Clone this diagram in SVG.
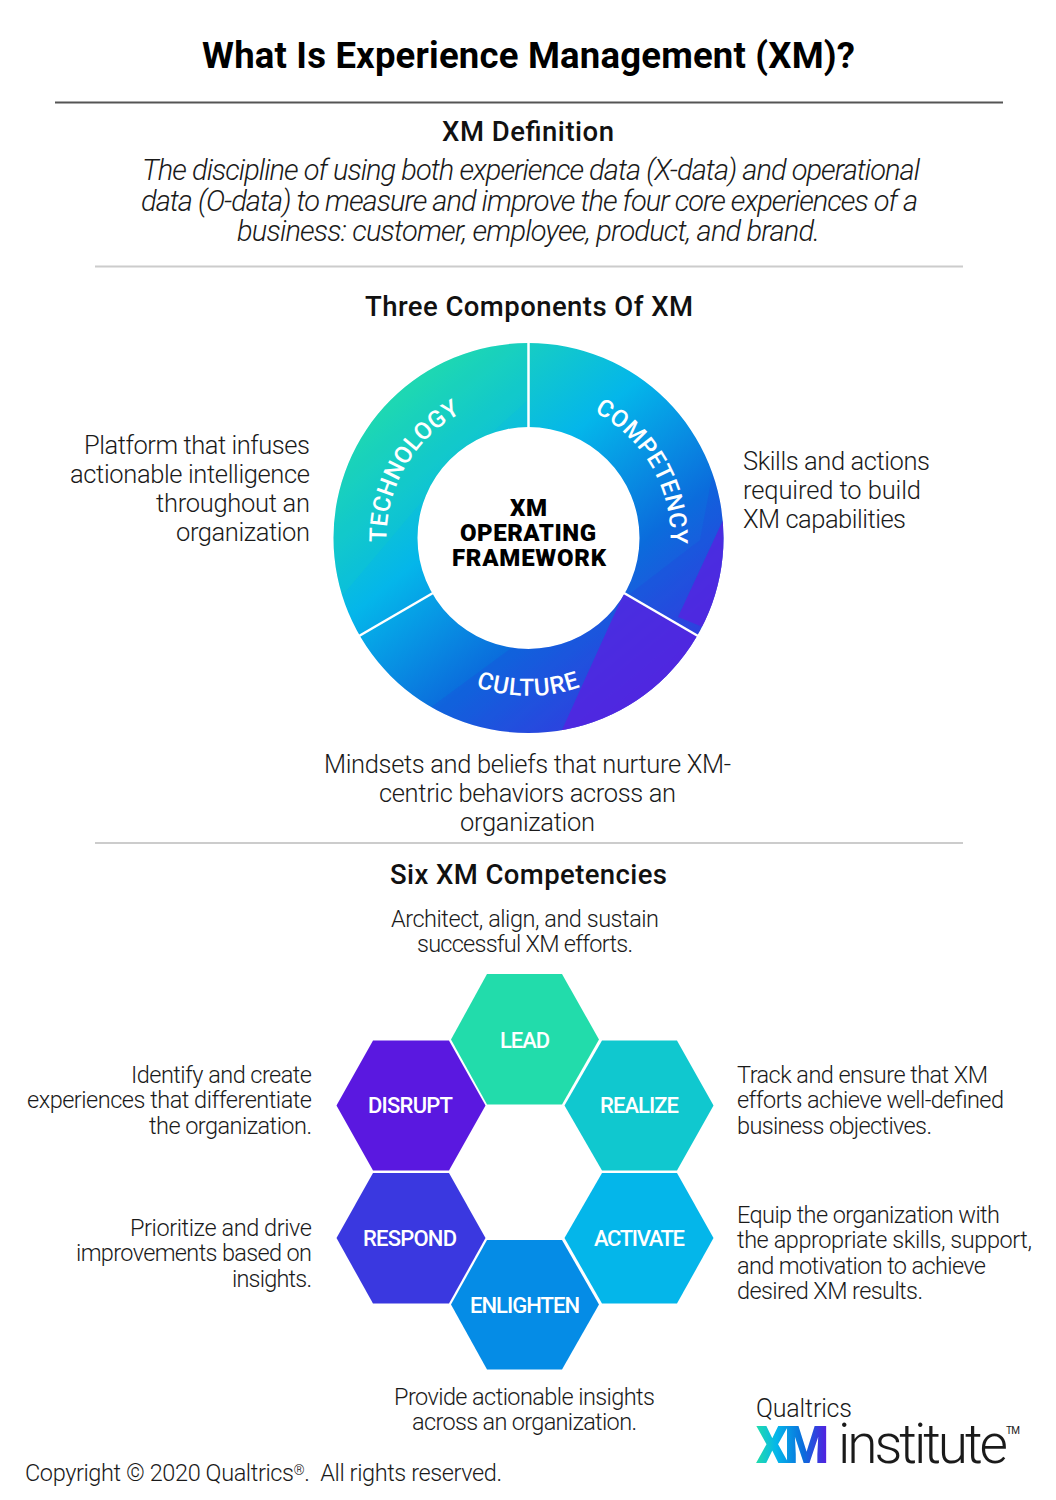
<svg xmlns="http://www.w3.org/2000/svg" width="1056" height="1500" viewBox="0 0 1056 1500">
<style>
text{font-family:"Roboto","Liberation Sans",sans-serif;fill:#1a1a1a}
.t{font-size:36.500px;font-weight:700;fill:#000}
.h{font-size:27.500px;font-weight:500;fill:#111}
.i{font-size:29px;font-weight:300;font-style:italic}
.b{font-size:25.500px;font-weight:300}
.s{font-size:23.500px;font-weight:300}
.c{font-size:24px;font-weight:900;fill:#000}
.w{font-size:22px;font-weight:500;fill:#fff}
.r{font-size:24px;font-weight:500;fill:#fff;letter-spacing:.3px}
.u{font-size:24px;font-weight:500;fill:#fff;letter-spacing:1px}
.rule{stroke:#ccc;stroke-width:2}
.div{stroke:#fff;stroke-width:2.5}
.hex{stroke:none}
</style>
<defs>
<linearGradient id="ring" gradientUnits="userSpaceOnUse" x1="395" y1="370" x2="665" y2="700">
<stop offset="0" stop-color="#22dcab"/>
<stop offset=".38" stop-color="#04b6ea"/>
<stop offset=".68" stop-color="#0b6cdc"/>
<stop offset="1" stop-color="#3a38e0"/>
</linearGradient>
<linearGradient id="xm" gradientUnits="userSpaceOnUse" x1="756" y1="1440" x2="829" y2="1440">
<stop offset="0" stop-color="#22dcab"/>
<stop offset=".28" stop-color="#04b6ea"/>
<stop offset=".65" stop-color="#0b6cdc"/>
<stop offset="1" stop-color="#5a18e0"/>
</linearGradient>
<clipPath id="ringclip"><path clip-rule="evenodd" d="M333.500 538a195 195 0 1 0 390 0a195 195 0 1 0-390 0ZM417.500 538a111 111 0 1 0 222 0a111 111 0 1 0-222 0Z"/></clipPath>
<path id="arcT" d="M405.500 609A142 142 0 0 1 528.500 396"/>
<path id="arcC" d="M528.500 396A142 142 0 0 1 651.500 609"/>
<path id="arcU" d="M408 640A158 158 0 0 0 649 640"/>
</defs>
<rect width="1056" height="1500" fill="#fff"/>

<text class="t" x="202" y="68" textLength="653">What Is Experience Management (XM)?</text>
<line x1="55" y1="102.500" x2="1003" y2="102.500" stroke="#555" stroke-width="2"/>
<text class="h" x="442" y="141" textLength="172">XM Definition</text>
<text class="i" x="142" y="180" textLength="778">The discipline of using both experience data (X-data) and operational</text>
<text class="i" x="141" y="211" textLength="777">data (O-data) to measure and improve the four core experiences of a</text>
<text class="i" x="237" y="240.500" textLength="583">business: customer, employee, product, and brand.</text>
<line class="rule" x1="95" y1="266.500" x2="963" y2="266.500"/>
<text class="h" x="365" y="316" textLength="328">Three Components Of XM</text>

<g id="ring-framework">
<g clip-path="url(#ringclip)">
<rect x="330" y="340" width="400" height="400" fill="url(#ring)"/>
<polygon points="528,340 528,400 440,480 330,610 330,340" fill="#22dcab" opacity=".12"/>
<polygon points="400,730 560,612 622,600 700,540 730,380 730,740" fill="#2a30e0" opacity=".16"/>
<polygon points="624,593 698,636 720,745 550,745 562,730" fill="#5a20e0" opacity=".75"/>
<polygon points="724,518 678,617 735,640 735,518" fill="#5a20e0" opacity=".75"/>
</g>
<line class="div" x1="528.500" y1="341" x2="528.500" y2="428"/>
<line class="div" x1="359" y1="636" x2="433" y2="593"/>
<line class="div" x1="624" y1="593" x2="698" y2="636"/>
</g>
<g id="node-technology"><text class="r"><textPath href="#arcT" startOffset="50%" text-anchor="middle">TECHNOLOGY</textPath></text></g>
<g id="node-competency"><text class="r"><textPath href="#arcC" startOffset="50%" text-anchor="middle">COMPETENCY</textPath></text></g>
<g id="node-culture"><text class="u"><textPath href="#arcU" startOffset="50%" text-anchor="middle">CULTURE</textPath></text></g>
<g id="node-center">
<text class="c" x="510" y="515.500" textLength="37">XM</text>
<text class="c" x="460" y="540.500" textLength="136">OPERATING</text>
<text class="c" x="452" y="565.500" textLength="154">FRAMEWORK</text>
</g>

<text class="b" x="84" y="454" textLength="226">Platform that infuses</text>
<text class="b" x="70" y="483" textLength="240">actionable intelligence</text>
<text class="b" x="156" y="512" textLength="154">throughout an</text>
<text class="b" x="176" y="540.500" textLength="134">organization</text>
<text class="b" x="743" y="469.500" textLength="187">Skills and actions</text>
<text class="b" x="743" y="498.500" textLength="178">required to build</text>
<text class="b" x="743" y="527.500" textLength="163">XM capabilities</text>
<text class="b" x="324" y="773" textLength="407">Mindsets and beliefs that nurture XM-</text>
<text class="b" x="379" y="802" textLength="297">centric behaviors across an</text>
<text class="b" x="460" y="831" textLength="135">organization</text>
<line class="rule" x1="95" y1="843" x2="963" y2="843"/>
<text class="h" x="390" y="884" textLength="277">Six XM Competencies</text>

<text class="s" x="391" y="927" textLength="268">Architect, align, and sustain</text>
<text class="s" x="417" y="952" textLength="216">successful XM efforts.</text>

<g id="node-lead"><polygon class="hex" points="451,1039.500 487,974 562,974 599,1039.500 562,1104.500 487,1104.500" fill="#22dcab"/><text class="w" x="500" y="1048" textLength="50">LEAD</text></g>
<g id="node-disrupt"><polygon class="hex" points="336.500,1105.500 373,1040.500 449,1040.500 485.500,1105.500 449,1170.500 373,1170.500" fill="#5a18e0"/><text class="w" x="368" y="1113" textLength="85">DISRUPT</text></g>
<g id="node-realize"><polygon class="hex" points="564.500,1105.500 602,1040.500 677,1040.500 713.500,1105.500 677,1170.500 602,1170.500" fill="#10c8cf"/><text class="w" x="600" y="1113" textLength="79">REALIZE</text></g>
<g id="node-respond"><polygon class="hex" points="336.500,1238 373,1173 449,1173 485.500,1238 449,1303.500 373,1303.500" fill="#3a38e0"/><text class="w" x="363" y="1246" textLength="94">RESPOND</text></g>
<g id="node-activate"><polygon class="hex" points="564.500,1238 602,1173 677,1173 713.500,1238 677,1303.500 602,1303.500" fill="#04b6ea"/><text class="w" x="594" y="1246" textLength="91">ACTIVATE</text></g>
<g id="node-enlighten"><polygon class="hex" points="451,1304.500 487,1240 562,1240 599,1304.500 562,1369.500 487,1369.500" fill="#058ce6"/><text class="w" x="470" y="1313" textLength="110">ENLIGHTEN</text></g>

<text class="s" x="131" y="1083" textLength="181">Identify and create</text>
<text class="s" x="27" y="1108" textLength="285">experiences that differentiate</text>
<text class="s" x="149" y="1134" textLength="163">the organization.</text>
<text class="s" x="130" y="1236" textLength="182">Prioritize and drive</text>
<text class="s" x="76" y="1261" textLength="236">improvements based on</text>
<text class="s" x="232" y="1287" textLength="80">insights.</text>
<text class="s" x="737" y="1083" textLength="251">Track and ensure that XM</text>
<text class="s" x="737" y="1108" textLength="267">efforts achieve well-defined</text>
<text class="s" x="737" y="1134" textLength="195">business objectives.</text>
<text class="s" x="737" y="1223" textLength="263">Equip the organization with</text>
<text class="s" x="737" y="1248" textLength="295">the appropriate skills, support,</text>
<text class="s" x="737" y="1274" textLength="249">and motivation to achieve</text>
<text class="s" x="737" y="1299" textLength="186">desired XM results.</text>
<text class="s" x="394" y="1405" textLength="261">Provide actionable insights</text>
<text class="s" x="412" y="1430" textLength="225">across an organization.</text>
<text class="s" x="25" y="1481" textLength="477" xml:space="preserve">Copyright © 2020 Qualtrics<tspan font-size="14" dy="-6">®</tspan><tspan dy="6">.  All rights reserved.</tspan></text>

<g id="logo">
<text x="756" y="1417" font-size="25" font-weight="300" textLength="96">Qualtrics</text>
<text x="756" y="1462.500" font-size="51" font-weight="900" textLength="73" style="fill:url(#xm)">XM</text>
<text x="838" y="1462.500" font-size="55" font-weight="300" textLength="170">institute</text>
<text x="1006" y="1434" font-size="10" font-weight="400" textLength="14">TM</text>
</g>
</svg>
